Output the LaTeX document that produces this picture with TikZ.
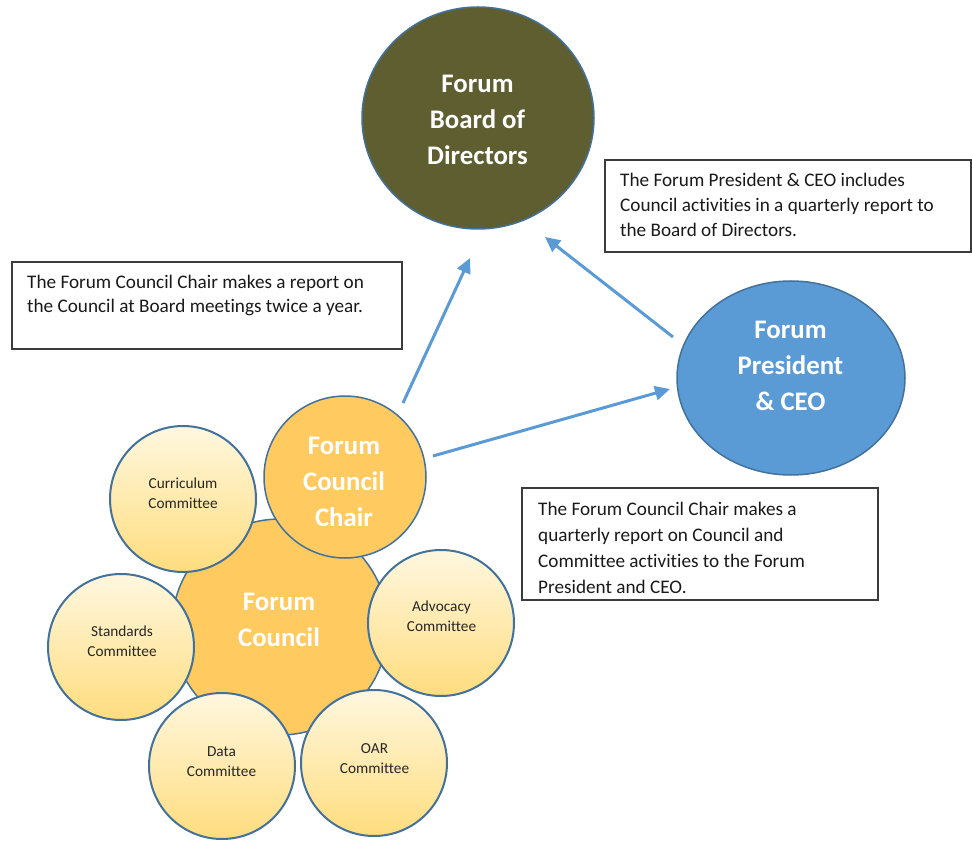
\documentclass[tikz,border=0pt]{standalone}
\usepackage{fontspec}
\setmainfont{Carlito}[Ligatures=CommonOff]
\usetikzlibrary{arrows.meta,shapes.geometric}
\definecolor{board}{HTML}{5F5E31}
\definecolor{ceo}{HTML}{5B9BD5}
\definecolor{rim}{HTML}{41719C}
\definecolor{gold}{HTML}{FFCA60}
\definecolor{creamtop}{HTML}{FFF7DF}
\definecolor{creambot}{HTML}{FFDD7E}
\definecolor{boxline}{HTML}{3C3C3C}

\begin{document}
\begin{tikzpicture}[x=1pt,y=-1pt,
  bigdisc/.style={draw=rim, line width=1.5pt, inner sep=0pt},
  bigtext/.style={text=white, inner sep=0pt, align=center,
    font=\bfseries\fontsize{26.8}{36}\selectfont},
  committee/.style={circle, draw=rim, line width=2pt, inner sep=0pt,
    minimum size=146pt, top color=creamtop, bottom color=creambot},
  comtext/.style={inner sep=0pt, align=center, text=black!85,
    font=\fontsize{15.3}{20}\selectfont},
  note/.style={draw=boxline, line width=1.3pt, inner sep=0pt},
  notetext/.style={anchor=west, inner sep=0pt, align=left, text=black!90},
  link/.style={draw=ceo, line width=3pt, -{Triangle[length=15pt,width=14pt]}}]

\useasboundingbox (0,0) rectangle (972,842);

% central council disc, partly covered by the satellites
\node[bigdisc, circle, fill=gold, minimum size=216pt] (council) at (280,627) {};
\node[bigtext] (counciltext) at (279,620) {Forum\\Council};

% committees around the council
\node[committee] (curriculum) at (183,499) {};
\node[committee] (standards)  at (121,647) {};
\node[committee] (data)       at (222,766) {};
\node[committee] (oar)        at (374,763) {};
\node[committee] (advocacy)   at (441,623) {};
\node[comtext] (curriculumtext) at (183,493.5) {Curriculum\\Committee};
\node[comtext] (standardstext)  at (122,641)   {Standards\\Committee};
\node[comtext] (datatext)       at (221.5,762) {Data\\Committee};
\node[comtext] (oartext)        at (374.5,759) {OAR\\Committee};
\node[comtext] (advocacytext)   at (441.5,616) {Advocacy\\Committee};

% council chair
\node[bigdisc, circle, fill=gold, minimum size=162pt] (chair) at (345,477) {};
\node[bigtext] (chairtext) at (344,482) {Forum\\Council\\Chair};

% board and president
\node[bigdisc, ellipse, fill=board, minimum width=232pt, minimum height=222pt] (board) at (478,118) {};
\node[bigtext] (boardtext) at (477.5,120) {Forum\\Board of\\Directors};
\node[bigdisc, ellipse, fill=ceo, minimum width=228pt, minimum height=194pt] (ceo) at (791,378) {};
\node[bigtext] (ceotext) at (790.5,366) {Forum\\President\\\& CEO};

% explanatory notes
\node[note, minimum width=390pt, minimum height=87pt] (noteboard) at (207,305.5) {};
\node[notetext, font=\fontsize{19.2}{24.5}\selectfont] (noteboardtext) at (27,295.8)
  {\strut The Forum Council Chair makes a report on\\the Council at Board meetings twice a year.\strut};
\node[note, minimum width=366pt, minimum height=92pt] (noteceo) at (788,206) {};
\node[notetext, font=\fontsize{19.2}{25}\selectfont] (noteceotext) at (620,206.8)
  {\strut The Forum President \& CEO includes\\Council activities in a quarterly report to\\the Board of Directors.\strut};
\node[note, minimum width=356pt, minimum height=112pt] (notechair) at (700,544) {};
\node[notetext, font=\fontsize{19.2}{26}\selectfont] (notechairtext) at (538,548.8)
  {\strut The Forum Council Chair makes a\\quarterly report on Council and\\Committee activities to the Forum\\President and CEO.\strut};

% reporting lines
\coordinate (chairup)    at (403,403);
\coordinate (boardlow)   at (470,258);
\coordinate (ceoleft)    at (673,337);
\coordinate (boardright) at (545,237);
\coordinate (chairright) at (433,456);
\coordinate (ceoin)      at (670,389);

\draw[link] (chairup) -- (boardlow);
\draw[link] (ceoleft) -- (boardright);
\draw[link] (chairright) -- (ceoin);
\end{tikzpicture}
\end{document}
